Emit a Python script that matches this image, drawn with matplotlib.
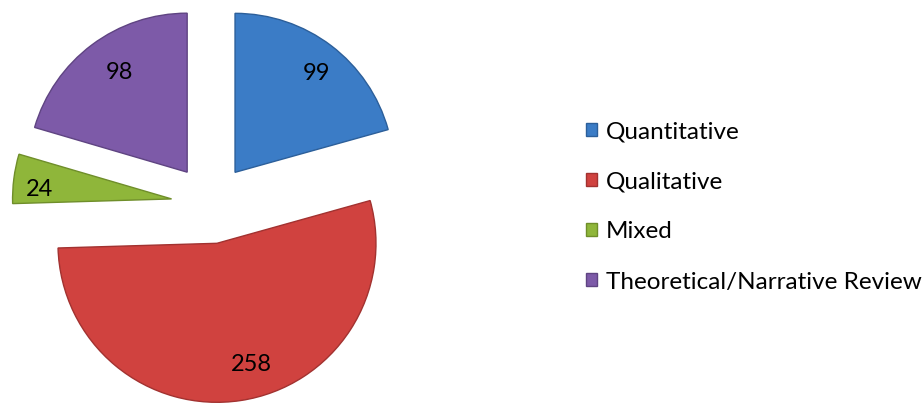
import matplotlib
matplotlib.use('Agg')
import matplotlib.pyplot as plt

# data
categories = ['Quantitative', 'Qualitative', 'Mixed',
              'Theoretical/Narrative Review']
counts = [99, 258, 24, 98]
colors = ['#3b7cc6', '#d0423f', '#8fb63a', '#7d5aa8']
edges = ['#2c5f9a', '#a23230', '#6f8e2a', '#5f4482']

plt.rcParams['font.family'] = ['Lato', 'DejaVu Sans']

fig_w, fig_h = 924, 404
dpi = 100
fig = plt.figure(figsize=(fig_w / dpi, fig_h / dpi), dpi=dpi)

# pie geometry in pixels: nominal centre and radius
cx, cy, rad = 211, 204, 159
lim = 1.3
side = 2 * lim * rad
ax = fig.add_axes([(cx - side / 2) / fig_w, (fig_h - cy - side / 2) / fig_h,
                   side / fig_w, side / fig_h])

wedges, texts, autotexts = ax.pie(
    counts, colors=colors, startangle=90, counterclock=False,
    explode=[0.25] * len(counts), radius=1.0,
    autopct=lambda p: '{:.0f}'.format(p * sum(counts) / 100.0),
    pctdistance=0.78, labeldistance=None,
    wedgeprops=dict(linewidth=1.0),
    textprops=dict(fontsize=17, color='black'))
for w, ec in zip(wedges, edges):
    w.set_edgecolor(ec)

# small nudges of the value labels (in data units) to match the original
nudges = [(0.04, 0.0), (0.10, 0.01), (-0.06, -0.04), (0.04, 0.0)]
for t, (dx, dy) in zip(autotexts, nudges):
    x, y = t.get_position()
    t.set_position((x + dx, y + dy))

ax.set_xlim(-lim, lim)
ax.set_ylim(-lim, lim)
ax.set_aspect('equal')
ax.axis('off')

fig.legend(wedges, categories, loc='center left',
           bbox_to_anchor=(0.624, 0.488), frameon=False, fontsize=17.5,
           handlelength=0.45, handleheight=0.45, handletextpad=0.35,
           labelspacing=1.2, borderaxespad=0.0)

fig.savefig('out.png', dpi=dpi)
